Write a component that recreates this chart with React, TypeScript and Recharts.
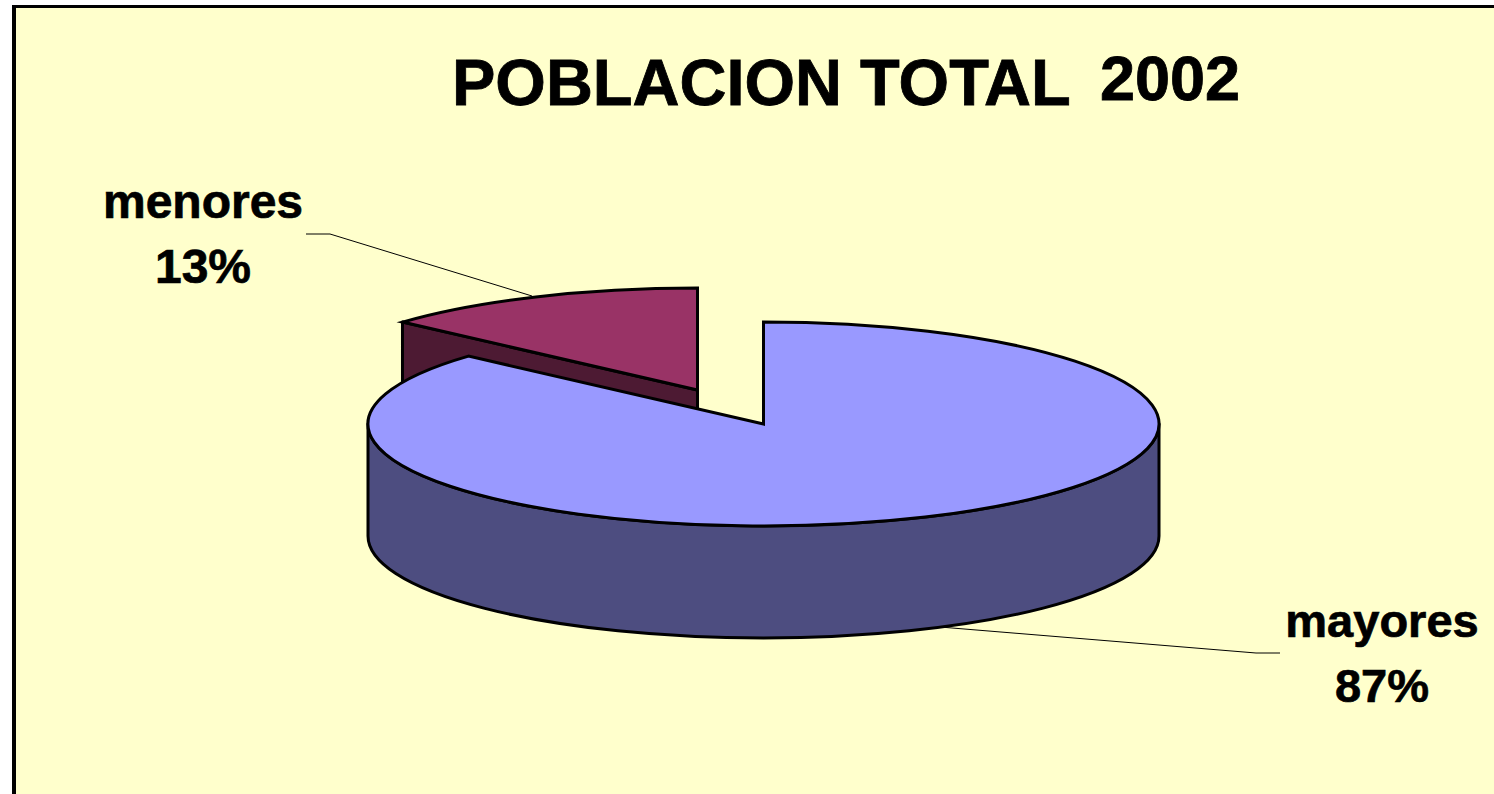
import React from 'react';
import { PieChart, Pie, Cell } from 'recharts';

const categories = ['menores', 'mayores'];
const values = [13.4, 86.6];
const topColors = ['#993366', '#9999FF'];
const wallColors = ['#4D1A33', '#4D4D80'];

const chartData = categories.map((name, i) => ({ name, value: values[i], wall: wallColors[i] }));

const WIDTH = 1494;
const HEIGHT = 794;
const FONT = '"Liberation Sans", Arial, sans-serif';

// the pie is drawn tilted, so the circle gets squashed to an ellipse
const SQUASH = 102 / 395.5;
const DEPTH = 112;
const LINE = 3;

const explode: Record<string, { dx: number; dy: number }> = {
  menores: { dx: -66, dy: -34 },
};

const labelSpots: Record<string, { x: number; y1: number; y2: number; size: number; line: string }> = {
  menores: { x: 203, y1: 218, y2: 283, size: 48, line: '306,234 330,234 532,296' },
  mayores: { x: 1382, y1: 637, y2: 702, size: 47, line: '1280,653 1256,653 940,627' },
};

const RAD = Math.PI / 180;

const TiltedSector = (props: any) => {
  const { cx, cy, outerRadius, startAngle, endAngle, fill, payload } = props;
  const off = explode[payload.name] || { dx: 0, dy: 0 };
  const rx = outerRadius;
  const ry = outerRadius * SQUASH;
  const ox = cx + off.dx;
  const oy = cy + off.dy;
  const px = (a: number) => ox + rx * Math.cos(a * RAD);
  const py = (a: number) => oy - ry * Math.sin(a * RAD);
  const large = endAngle - startAngle > 180 ? 1 : 0;

  const top =
    `M${ox},${oy} L${px(startAngle)},${py(startAngle)} ` +
    `A${rx},${ry} 0 ${large} 0 ${px(endAngle)},${py(endAngle)} Z`;

  const walls: string[] = [];
  // front rim, only the lower half of the ellipse can be seen
  const from = Math.max(startAngle, 180);
  const to = Math.min(endAngle, 360);
  if (to > from) {
    const big = to - from > 180 ? 1 : 0;
    walls.push(
      `M${px(from)},${py(from)} A${rx},${ry} 0 ${big} 0 ${px(to)},${py(to)} ` +
        `L${px(to)},${py(to) + DEPTH} A${rx},${ry} 0 ${big} 1 ${px(from)},${py(from) + DEPTH} Z`,
    );
  }
  // cut face at the end of the sector, seen when it faces the viewer
  if (Math.sin((endAngle + 90) * RAD) < -0.01) {
    walls.push(
      `M${ox},${oy} L${px(endAngle)},${py(endAngle)} L${px(endAngle)},${py(endAngle) + DEPTH} ` +
        `L${ox},${oy + DEPTH} Z`,
    );
  }

  return (
    <g>
      {walls.map((d, i) => (
        <path key={i} d={d} fill={payload.wall} stroke="#000" strokeWidth={LINE} strokeLinejoin="round" />
      ))}
      <path d={top} fill={fill} stroke="#000" strokeWidth={LINE} strokeLinejoin="miter" />
    </g>
  );
};

const renderLabel = (props: any) => {
  const spot = labelSpots[props.name];
  const textStyle = {
    textAnchor: 'middle' as const,
    fontFamily: FONT,
    fontWeight: 'bold',
    fontSize: spot.size,
    fill: '#000',
    stroke: '#000',
    strokeWidth: 0.7,
  };
  return (
    <g>
      <polyline points={spot.line} fill="none" stroke="#000" strokeWidth={1} />
      <text x={spot.x} y={spot.y1} {...textStyle}>
        {props.name}
      </text>
      <text x={spot.x} y={spot.y2} {...textStyle}>
        {`${(props.percent * 100).toFixed(0)}%`}
      </text>
    </g>
  );
};

export default function App() {
  return (
    <div style={{ position: 'fixed', left: 0, top: 0, width: WIDTH, height: HEIGHT, background: '#fff', overflow: 'hidden' }}>
      <div
        style={{
          position: 'absolute',
          left: 12,
          top: 5,
          width: WIDTH,
          height: HEIGHT,
          background: '#FFFFCC',
          borderLeft: '4px solid #000',
          borderTop: '3px solid #000',
        }}
      />
      <div style={{ position: 'absolute', left: 0, top: 0 }}>
        <PieChart width={WIDTH} height={HEIGHT} margin={{ top: 0, right: 0, bottom: 0, left: 0 }}>
          <text x={452} y={105} fontFamily={FONT} fontWeight="bold" fontSize={65} fill="#000" stroke="#000" strokeWidth={0.8}>
            POBLACION TOTAL
          </text>
          <text x={1100} y={100} fontFamily={FONT} fontWeight="bold" fontSize={63} fill="#000" stroke="#000" strokeWidth={0.8}>
            2002
          </text>
          <Pie
            data={chartData}
            dataKey="value"
            nameKey="name"
            cx={763.5}
            cy={424}
            innerRadius={0}
            outerRadius={395.5}
            startAngle={90}
            endAngle={450}
            paddingAngle={0}
            shape={TiltedSector}
            label={renderLabel}
            labelLine={false}
            isAnimationActive={false}
          >
            {chartData.map((_, index) => (
              <Cell key={`cell-${index}`} fill={topColors[index]} />
            ))}
          </Pie>
        </PieChart>
      </div>
    </div>
  );
}
